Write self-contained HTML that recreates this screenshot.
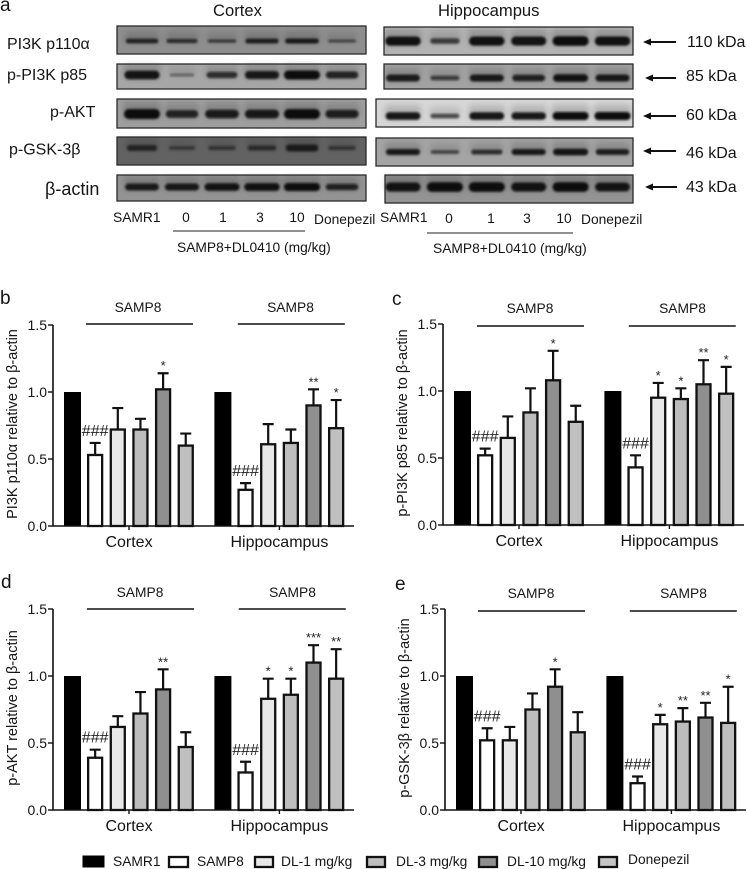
<!DOCTYPE html>
<html>
<head>
<meta charset="utf-8">
<title>Western blots and densitometry</title>
<style>
html,body{margin:0;padding:0;background:#fff;}
svg{display:block;font-family:"Liberation Sans",sans-serif;fill:#151515;}
</style>
</head>
<body>
<svg id="fig" xmlns="http://www.w3.org/2000/svg" width="747" height="869" viewBox="0 0 747 869">
<defs>
<filter id="soft" x="-30%" y="-100%" width="160%" height="300%"><feGaussianBlur stdDeviation="1"/></filter>
<filter id="softer" x="-30%" y="-150%" width="160%" height="400%"><feGaussianBlur stdDeviation="3"/></filter>
</defs>
<rect width="747" height="869" fill="#fff"/>

<g font-size="19">
<text x="0" y="11">a</text>
<text x="0" y="304">b</text>
<text x="392" y="305">c</text>
<text x="1" y="588">d</text>
<text x="395" y="590">e</text>
</g>

<g id="blots"></g>

<g font-size="16">
<text x="213" y="16" font-size="16.6">Cortex</text>
<text x="438" y="16" font-size="16.6">Hippocampus</text>
<text x="7" y="49">PI3K p110α</text>
<text x="7" y="80">p-PI3K p85</text>
<text x="50" y="117">p-AKT</text>
<text x="9" y="154.5">p-GSK-3β</text>
<text x="45" y="195" font-size="18">β-actin</text>
<text x="687" y="47">110 kDa</text>
<text x="686" y="81">85 kDa</text>
<text x="686" y="120">60 kDa</text>
<text x="686" y="158">46 kDa</text>
<text x="686" y="192">43 kDa</text>
</g>

<g stroke="#111" stroke-width="2" fill="#111">
<g><line x1="648" y1="42" x2="676" y2="42"/><path d="M643 42l8-3.5v7z" stroke="none"/></g>
<g><line x1="650" y1="78" x2="676" y2="78"/><path d="M645 78l8-3.5v7z" stroke="none"/></g>
<g><line x1="648" y1="116" x2="676" y2="116"/><path d="M643 116l8-3.5v7z" stroke="none"/></g>
<g><line x1="648" y1="151" x2="676" y2="151"/><path d="M643 151l8-3.5v7z" stroke="none"/></g>
<g><line x1="650" y1="187" x2="677" y2="187"/><path d="M645 187l8-3.5v7z" stroke="none"/></g>
</g>

<g font-size="13.8">
<text x="113" y="222">SAMR1</text>
<text x="186" y="222" text-anchor="middle">0</text>
<text x="223" y="222" text-anchor="middle">1</text>
<text x="260" y="222" text-anchor="middle">3</text>
<text x="297" y="222" text-anchor="middle">10</text>
<text x="314" y="224">Donepezil</text>
<line x1="173" y1="231" x2="305" y2="231" stroke="#222" stroke-width="1"/>
<text x="177" y="252">SAMP8+DL0410 (mg/kg)</text>
<text x="380" y="222">SAMR1</text>
<text x="449" y="223" text-anchor="middle">0</text>
<text x="491" y="223" text-anchor="middle">1</text>
<text x="527" y="223" text-anchor="middle">3</text>
<text x="564" y="223" text-anchor="middle">10</text>
<text x="581" y="224">Donepezil</text>
<line x1="427" y1="233" x2="573" y2="233" stroke="#222" stroke-width="1"/>
<text x="433" y="253">SAMP8+DL0410 (mg/kg)</text>
</g>

<g id="charts"></g>

<g font-size="13.8">
<g><rect x="83" y="856" width="21" height="11" fill="#000" stroke="#000" stroke-width="1"/><text x="113" y="866">SAMR1</text></g>
<g><rect x="169" y="857" width="19" height="10" fill="#fff" stroke="#111" stroke-width="2.3"/><text x="197" y="866">SAMP8</text></g>
<g><rect x="255" y="857" width="18" height="10" fill="#e8e8e8" stroke="#111" stroke-width="2.3"/><text x="281" y="866">DL-1 mg/kg</text></g>
<g><rect x="367" y="857" width="18" height="10" fill="#bdbdbd" stroke="#111" stroke-width="2.3"/><text x="396" y="866">DL-3 mg/kg</text></g>
<g><rect x="479" y="857" width="18" height="10" fill="#8f8f8f" stroke="#111" stroke-width="2.3"/><text x="507" y="866">DL-10 mg/kg</text></g>
<g><rect x="599" y="857" width="18" height="10" fill="#c4c4c4" stroke="#111" stroke-width="2.3"/><text x="628" y="864">Donepezil</text></g>
</g>
</svg>

<script>
// ---------- Chart data ----------
const yTickLabels = ["0.0", "0.5", "1.0", "1.5"];
const yTickValues = [0, 0.5, 1, 1.5];
const regions = ["Cortex", "Hippocampus"];
const groupNames = ["SAMR1", "SAMP8", "DL-1", "DL-3", "DL-10", "Donepezil"];

const p110CortexValues = [1, 0.53, 0.72, 0.72, 1.02, 0.60];
const p110CortexTops = [null, 0.62, 0.88, 0.80, 1.14, 0.69];
const p110CortexMarks = ["", "###", "", "", "*", ""];
const p110HippoValues = [1, 0.27, 0.61, 0.62, 0.90, 0.73];
const p110HippoTops = [null, 0.32, 0.76, 0.72, 1.02, 0.94];
const p110HippoMarks = ["", "###", "", "", "**", "*"];

const p85CortexValues = [1, 0.52, 0.65, 0.84, 1.08, 0.77];
const p85CortexTops = [null, 0.57, 0.81, 1.02, 1.30, 0.89];
const p85CortexMarks = ["", "###", "", "", "*", ""];
const p85HippoValues = [1, 0.43, 0.95, 0.94, 1.05, 0.98];
const p85HippoTops = [null, 0.52, 1.06, 1.02, 1.23, 1.18];
const p85HippoMarks = ["", "###", "*", "*", "**", "*"];

const aktCortexValues = [1, 0.39, 0.62, 0.72, 0.90, 0.47];
const aktCortexTops = [null, 0.45, 0.70, 0.88, 1.05, 0.58];
const aktCortexMarks = ["", "###", "", "", "**", ""];
const aktHippoValues = [1, 0.28, 0.83, 0.86, 1.10, 0.98];
const aktHippoTops = [null, 0.36, 0.98, 0.98, 1.23, 1.20];
const aktHippoMarks = ["", "###", "*", "*", "***", "**"];

const gskCortexValues = [1, 0.52, 0.52, 0.75, 0.92, 0.58];
const gskCortexTops = [null, 0.61, 0.62, 0.87, 1.05, 0.73];
const gskCortexMarks = ["", "###", "", "", "*", ""];
const gskHippoValues = [1, 0.20, 0.64, 0.66, 0.69, 0.65];
const gskHippoTops = [null, 0.25, 0.71, 0.76, 0.80, 0.92];
const gskHippoMarks = ["", "###", "*", "**", "**", "*"];

// Band strength per lane, 0-1
const cortexBands = [
  [0.72, 0.6, 0.42, 0.78, 0.82, 0.35],
  [0.92, 0.1, 0.6, 0.85, 1.0, 0.72],
  [1.0, 0.72, 0.82, 0.85, 1.0, 0.78],
  [0.55, 0.22, 0.3, 0.42, 0.72, 0.3],
  [0.82, 0.85, 0.92, 0.95, 1.0, 0.72]
];
const hippoBands = [
  [0.95, 0.48, 0.95, 0.92, 1.0, 0.95],
  [0.82, 0.45, 0.85, 0.75, 0.92, 0.85],
  [0.9, 0.45, 0.9, 0.88, 1.0, 1.0],
  [0.85, 0.4, 0.62, 0.85, 0.92, 0.8],
  [0.92, 1.0, 1.0, 0.92, 1.0, 0.9]
];
// Relative band thickness per blot row
const cortexThickness = [0.62, 0.95, 1.05, 0.9, 0.85];
const hippoThickness = [1.0, 0.85, 0.85, 0.72, 1.0];
const cortexBackgrounds = ["#8e8e8e", "#a6a6a6", "#9e9e9e", "#626262", "#939393"];
const hippoBackgrounds = ["#b2b2b2", "#a2a2a2", "#d6d6d6", "#a4a4a4", "#939393"];

// ---------- Rendering ----------
const NS = "http://www.w3.org/2000/svg";
function make(parent, tag, attrs, text) {
  const n = document.createElementNS(NS, tag);
  for (const k in attrs) n.setAttribute(k, attrs[k]);
  if (text !== undefined) n.textContent = text;
  parent.appendChild(n);
  return n;
}

const blotRoot = document.getElementById("blots");
function drawBlot(prefix, backgrounds, bands, thickness, frames, laneStart, lanePitch, laneYs) {
  bands.forEach(function (row, r) {
    const f = frames[r];
    const g = make(blotRoot, "g", {});
    
    
    const bg = make(g, "rect", { x: f[0], y: f[1], width: f[2], height: f[3], fill: backgrounds[r] });
    
    
    row.forEach(function (s, i) {
      const cx = laneStart + i * lanePitch;
      const w = 23 + 13 * s;
      const h = (2 + 7.5 * s) * thickness[r];
      const halo = make(g, "rect", {
        x: cx - w / 2 - 1, y: laneYs[r] - h / 2 - 7, width: w + 2, height: h + 7, rx: 4,
        fill: "#000", opacity: 0.06 + 0.1 * s, filter: "url(#softer)"
      });
      
      
      const band = make(g, "rect", {
        x: cx - w / 2, y: laneYs[r] - h / 2, width: w, height: h, rx: h / 2,
        fill: "#0b0b0b", opacity: 0.4 + 0.6 * s, filter: "url(#soft)"
      });
      
      
    });
    const frame = make(g, "rect", { x: f[0], y: f[1], width: f[2], height: f[3], fill: "none", stroke: "#2a2a2a", "stroke-width": 1.3 });
    
    
  });
}
drawBlot("cortex", cortexBackgrounds, cortexBands, cortexThickness,
  [[117, 26, 249, 28], [117, 64, 249, 25], [117, 99, 249, 29], [117, 137, 249, 28], [117, 175, 249, 26]],
  142, 40, [41, 75, 114, 148, 187]);
drawBlot("hippocampus", hippoBackgrounds, hippoBands, hippoThickness,
  [[384, 27, 249, 28], [384, 64, 249, 25], [376, 99, 257, 28], [376, 138, 257, 28], [385, 175, 248, 28]],
  403, 41.9, [41, 78, 116, 152, 187]);

const fills = ["#000000", "#ffffff", "#e8e8e8", "#bdbdbd", "#8f8f8f", "#c0c0c0"];
const STEP = 22.65, GROUP_GAP = 150.4, BAR_W = 14, PLOT_H = 201, FIRST = 19.5;

function drawChart(key, title, ax, y0, series, lineY, labelY, lineOffset, labelOffset) {
  const root = make(document.getElementById("charts"), "g", {});
  
  
  const yScale = function (v) { return y0 - v / 1.5 * PLOT_H; };
  const xScale = function (g, i) { return ax + FIRST + g * GROUP_GAP + i * STEP; };

  series.forEach(function (s, g) {
    s.values.forEach(function (v, i) {
      const cx = xScale(g, i);
      const top = yScale(v);
      if (s.tops[i] !== null) {
        const capY = yScale(s.tops[i]);
        const err = make(root, "path", {
          d: "M" + cx + " " + top + "V" + capY + "M" + (cx - 5.5) + " " + capY + "H" + (cx + 5.5),
          fill: "none", stroke: "#111", "stroke-width": 2.2
        });
        
        
      }
      const isBlack = i === 0;
      const bar = make(root, "rect", {
        x: isBlack ? cx - 8.5 : cx - BAR_W / 2, y: top,
        width: isBlack ? 17 : BAR_W, height: y0 - top,
        fill: fills[i], stroke: isBlack ? "none" : "#111", "stroke-width": 2.3
      });
      
      
      const mark = s.marks[i];
      if (mark === "###") {
        const m = make(root, "text", {
          x: cx, y: yScale(s.tops[i]) - 7, "text-anchor": "middle", "font-size": 16, fill: "#222"
        }, mark);
        
        
      } else if (mark) {
        const m = make(root, "text", {
          x: cx, y: yScale(s.tops[i]) - 3, "text-anchor": "middle", "font-size": 13, fill: "#222"
        }, mark);
        
        
      }
    });
    const cxTick = ax + 76 + g * GROUP_GAP;
    const t = make(root, "line", { x1: cxTick, y1: y0, x2: cxTick, y2: y0 + 4, stroke: "#111", "stroke-width": 1.4 });
    
    
    const xl = make(root, "text", { x: cxTick, y: y0 + 21, "text-anchor": "middle", "font-size": 16 }, regions[g]);
    
    
    const bracket = make(root, "line", {
      x1: ax + lineOffset + g * 151.8, x2: ax + lineOffset + 107 + g * 151.8,
      y1: lineY, y2: lineY, stroke: "#111", "stroke-width": 1.4
    });
    
    
    const bl = make(root, "text", {
      x: ax + labelOffset + g * 152.5, y: labelY, "text-anchor": "middle", "font-size": 13.8
    }, "SAMP8");
    
    
  });

  const axes = make(root, "path", {
    d: "M" + ax + " " + yScale(1.5) + "V" + y0 + "H" + Math.min(ax + 301, 747),
    fill: "none", stroke: "#111", "stroke-width": 1.6
  });
  
  

  yTickValues.forEach(function (v, i) {
    const yy = yScale(v);
    const tick = make(root, "line", { x1: ax - 5, y1: yy, x2: ax, y2: yy, stroke: "#111", "stroke-width": 1.4 });
    
    
    const lab = make(root, "text", { x: ax - 6, y: yy + 5, "text-anchor": "end", "font-size": 14 }, yTickLabels[i]);
    
    
  });

  const cy = y0 - 102;
  const yt = make(root, "text", {
    x: ax - 36, y: cy, "text-anchor": "middle", "font-size": 14.5,
    transform: "rotate(-90 " + (ax - 36) + " " + cy + ")"
  }, title);
  
  
}

drawChart("b", "PI3K p110α relative to β-actin", 53, 526, [
  { values: p110CortexValues, tops: p110CortexTops, marks: p110CortexMarks },
  { values: p110HippoValues, tops: p110HippoTops, marks: p110HippoMarks }
], 324, 312, 33, 85);
drawChart("c", "p-PI3K p85 relative to β-actin", 443, 525, [
  { values: p85CortexValues, tops: p85CortexTops, marks: p85CortexMarks },
  { values: p85HippoValues, tops: p85HippoTops, marks: p85HippoMarks }
], 326, 313, 34, 87);
drawChart("d", "p-AKT relative to β-actin", 53, 810, [
  { values: aktCortexValues, tops: aktCortexTops, marks: aktCortexMarks },
  { values: aktHippoValues, tops: aktHippoTops, marks: aktHippoMarks }
], 609, 597, 34, 87);
drawChart("e", "p-GSK-3β relative to β-actin", 445, 810, [
  { values: gskCortexValues, tops: gskCortexTops, marks: gskCortexMarks },
  { values: gskHippoValues, tops: gskHippoTops, marks: gskHippoMarks }
], 611, 598, 33, 86);
</script>
</body>
</html>
